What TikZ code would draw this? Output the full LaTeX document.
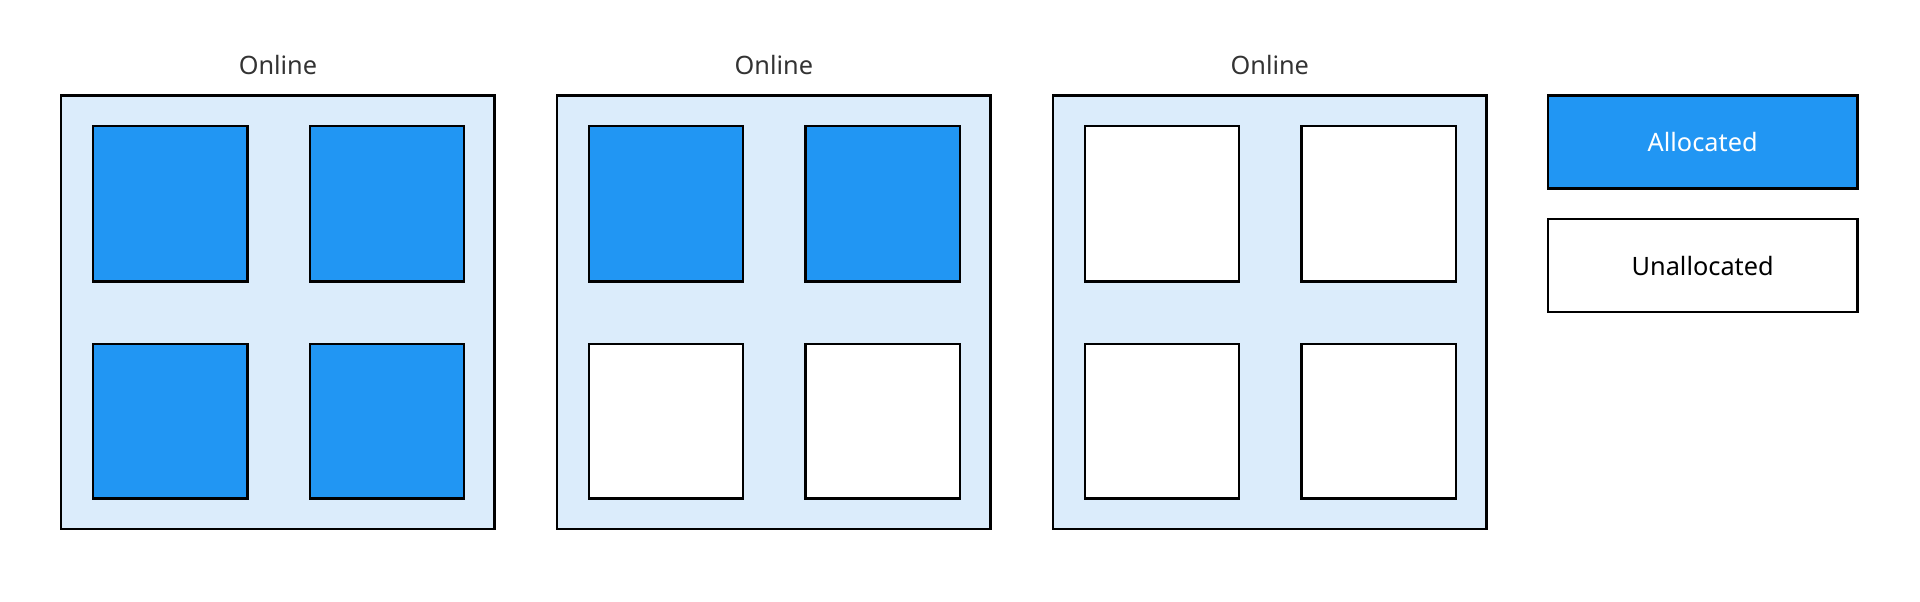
\documentclass[tikz,border=0pt]{standalone}
\usepackage{fontspec}
\setmainfont{Noto Sans}
\definecolor{blu}{HTML}{2196F3}
\definecolor{lite}{HTML}{DBECFB}
\definecolor{txt}{HTML}{333333}
\begin{document}
\begin{tikzpicture}[x=0.75pt,y=-0.75pt,
  outer/.style={draw=black,fill=lite,line width=1.5pt},
  alloc/.style={draw=black,fill=blu,line width=1.5pt},
  free/.style={draw=black,fill=white,line width=1.5pt},
  lbl/.style={text=txt,font=\fontsize{15.5}{18}\selectfont}]
\useasboundingbox (0,0) rectangle (1568,491);
\foreach \i/\ox/\a/\b/\c/\d in {1/50/alloc/alloc/alloc/alloc,2/455/alloc/alloc/free/free,3/860/free/free/free/free}{
  \draw[outer] (\ox,78) rectangle ++(354,354);
  \node[lbl] (t\i) at (\ox+177,53) {Online};
  \draw[\a] (\ox+26,103) rectangle ++(126,127);
  \draw[\b] (\ox+203,103) rectangle ++(126,127);
  \draw[\c] (\ox+26,281) rectangle ++(126,126);
  \draw[\d] (\ox+203,281) rectangle ++(126,126);
}
\node[alloc,minimum width=253*0.75pt,minimum height=76*0.75pt,text=white,font=\fontsize{15.5}{18}\selectfont] (la) at (1390.5,116) {Allocated};
\node[free,minimum width=253*0.75pt,minimum height=76*0.75pt,text=black,font=\fontsize{15.5}{18}\selectfont] (lu) at (1390.5,217) {Unallocated};
\end{tikzpicture}
\end{document}
